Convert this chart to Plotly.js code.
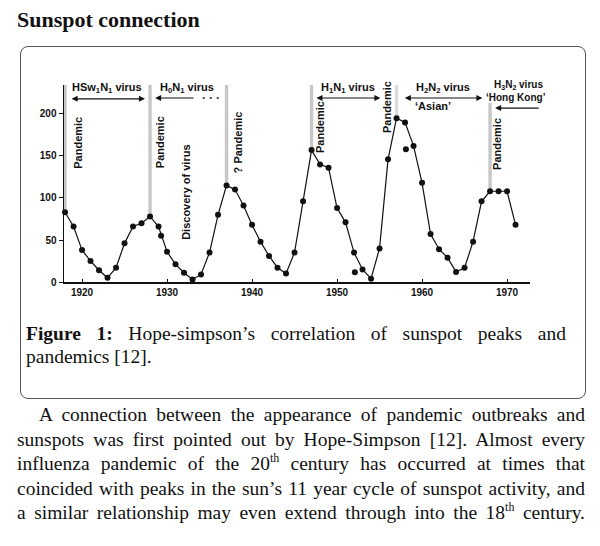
<!DOCTYPE html>
<html>
<head>
<meta charset="utf-8">
<script src="https://cdn.plot.ly/plotly-3.0.1.min.js"></script>
<style>
  html,body{margin:0;padding:0;background:#fff;}
  body{width:600px;height:546px;position:relative;overflow:hidden;}
  .serif{font-family:"Liberation Serif","Times New Roman",serif;color:#111;}
  #title{position:absolute;left:17px;top:7px;font-size:22px;font-weight:bold;white-space:nowrap;}
  #box{position:absolute;left:20px;top:46px;width:566px;height:353px;border:1.5px solid #555;border-radius:8px;box-sizing:border-box;}
  #chart{position:absolute;left:0;top:0;width:600px;height:546px;}
  #caption{position:absolute;left:26px;top:322px;width:540px;font-size:19.5px;line-height:23px;}
  #bodytext{position:absolute;left:17px;top:403px;width:568px;font-size:19.5px;line-height:24.5px;}
  .jl{text-align:justify;text-align-last:justify;white-space:nowrap;word-spacing:-2px;}
  .ll{text-align:left;white-space:nowrap;}
  sup{font-size:12px;line-height:0;position:relative;top:-1px;}
</style>
</head>
<body>
<div id="title" class="serif">Sunspot connection</div>
<div id="box"></div>
<div id="chart"></div>
<div id="caption" class="serif">
  <div class="jl"><b>Figure 1:</b> Hope-simpson’s correlation of sunspot peaks and</div>
  <div class="ll">pandemics [12].</div>
</div>
<div id="bodytext" class="serif">
  <div class="jl" style="padding-left:22px">A connection between the appearance of pandemic outbreaks and</div>
  <div class="jl">sunspots was first pointed out by Hope-Simpson [12]. Almost every</div>
  <div class="jl">influenza pandemic of the 20<sup>th</sup> century has occurred at times that</div>
  <div class="jl">coincided with peaks in the sun’s 11 year cycle of sunspot activity, and</div>
  <div class="jl">a similar relationship may even extend through into the 18<sup>th</sup> century.</div>
</div>
<script>
// Sunspot number (Rz) by year
const years = [1918,1919,1920,1921,1922,1923,1924,1925,1926,1927,1928,1929,1930,1931,1932,1933,1934,1935,1936,1937,1938,1939,1940,1941,1942,1943,1944,1945,1946,1947,1948,1949,1950,1951,1952,1953,1954,1955,1956,1957,1958,1959,1960,1961,1962,1963,1964,1965,1966,1967,1968,1969,1970,1971];
const rz = [83,66,38,25,14,5,17,46,66,70,78,66,36,21,11,3,9,35,80,115,110,91,68,48,31,17,10,35,96,157,140,136,88,71,35,15,4,40,146,195,190,162,118,57,39,29,12,17,48,96,108,108,108,68];
// stray dots off the line
const extraYears = [1929.3,1952.1,1958.1];
const extraRz = [55,11.5,158];
// pandemic years
const pandemicYears = [1918,1928,1937,1947,1957,1968];
// tick labels
const xTicks = [1920,1930,1940,1950,1960,1970];
const yTicks = [0,50,100,150,200];

const ink = '#111';
const sansB = {family:'"Liberation Sans", Arial, sans-serif', size:11, color:ink, weight:'bold'};
const sansB10 = Object.assign({}, sansB, {size:10});

const traces = [
  {x:years, y:rz, type:'scatter', mode:'lines+markers',
   line:{color:ink, width:1.2}, marker:{color:ink, size:6}, cliponaxis:false, showlegend:false},
  {x:extraYears, y:extraRz, type:'scatter', mode:'markers',
   marker:{color:ink, size:6}, showlegend:false}
];

const yTop = 234.5;
const shapes = pandemicYears.map((yr) => {
  const v = rz[years.indexOf(yr)];
  const top = (yr === 1968) ? 213 : yTop;
  return {type:'rect', xref:'x', yref:'y', x0:yr-0.2, x1:yr+0.2, y0:v, y1:top,
          fillcolor: yr===1957 ? 'rgba(175,175,175,0.45)' : 'rgba(175,175,175,0.7)', line:{width:0}, layer:'below'};
});
// dotted continuation of the H0N1 arrow
shapes.push({type:'line', xref:'x', yref:'y', x0:1934.2, x1:1936.2, y0:219, y1:219,
             line:{color:ink, width:1.6, dash:'2px,5px'}});

function txt(x,y,t,opts){ return Object.assign({x:x,y:y,xref:'x',yref:'y',text:t,showarrow:false,font:sansB,xanchor:'center',yanchor:'middle'},opts||{}); }
function arrow(x,y,ax,side){ return {x:x,y:y,ax:ax,ay:y,xref:'x',yref:'y',axref:'x',ayref:'y',text:'',showarrow:true,arrowhead:2,arrowsize:1,arrowwidth:1.2,arrowcolor:ink,arrowside:side}; }

const annotations = [
  txt(1916.6, 216.5, 'R<sub>z</sub>', {font:sansB10}),
  txt(1922.9, 231, 'HSw<sub>1</sub>N<sub>1</sub> virus'),
  arrow(1927.4, 218, 1918.6, 'end+start'),
  txt(1932.4, 231, 'H<sub>0</sub>N<sub>1</sub> virus'),
  arrow(1928.6, 219, 1933.3, 'end'),
  txt(1951.3, 231.5, 'H<sub>1</sub>N<sub>1</sub> virus'),
  arrow(1955.1, 219, 1947.4, 'end+start'),
  txt(1962.5, 231, 'H<sub>2</sub>N<sub>2</sub> virus'),
  arrow(1967.1, 219, 1957.8, 'end+start'),
  txt(1961.3, 209.5, '‘Asian’'),
  txt(1971.4, 234.5, 'H<sub>3</sub>N<sub>2</sub> virus', {font:sansB10}),
  txt(1971.1, 220, '‘Hong Kong’', {font:sansB10}),
  arrow(1968.6, 207, 1973.9, 'end'),
  txt(1919.5, 165.5, 'Pandemic', {textangle:-90}),
  txt(1929.2, 166.7, 'Pandemic', {textangle:-90}),
  txt(1932.2, 107, 'Discovery of virus', {textangle:-90}),
  txt(1938.4, 166.7, '? Pandemic', {textangle:-90}),
  txt(1948.0, 184.5, 'Pandemic', {textangle:-90}),
  txt(1955.85, 208, 'Pandemic', {textangle:-90}),
  txt(1968.9, 164, 'Pandemic', {textangle:-90})
];

const tf = {family:'"Liberation Sans", Arial, sans-serif', size:10, color:ink, weight:'bold'};
const layout = {
  width:600, height:546,
  margin:{l:64, r:70, t:85, b:264},
  paper_bgcolor:'rgba(0,0,0,0)', plot_bgcolor:'rgba(0,0,0,0)',
  showlegend:false,
  xaxis:{range:[1917.88,1972.7], tickvals:xTicks, ticktext:xTicks.map(String), showgrid:false, zeroline:false,
         showline:true, linecolor:ink, linewidth:1.5, ticks:'inside', ticklen:3, tickcolor:ink, tickfont:tf},
  yaxis:{range:[0,yTop], tickvals:yTicks, ticktext:yTicks.map(String), showgrid:false, zeroline:false,
         showline:true, linecolor:ink, linewidth:1.5, ticks:'outside', ticklen:4, tickcolor:ink, tickfont:tf},
  shapes:shapes,
  annotations:annotations
};

Plotly.newPlot('chart', traces, layout, {displayModeBar:false, staticPlot:true});
</script>
</body>
</html>
